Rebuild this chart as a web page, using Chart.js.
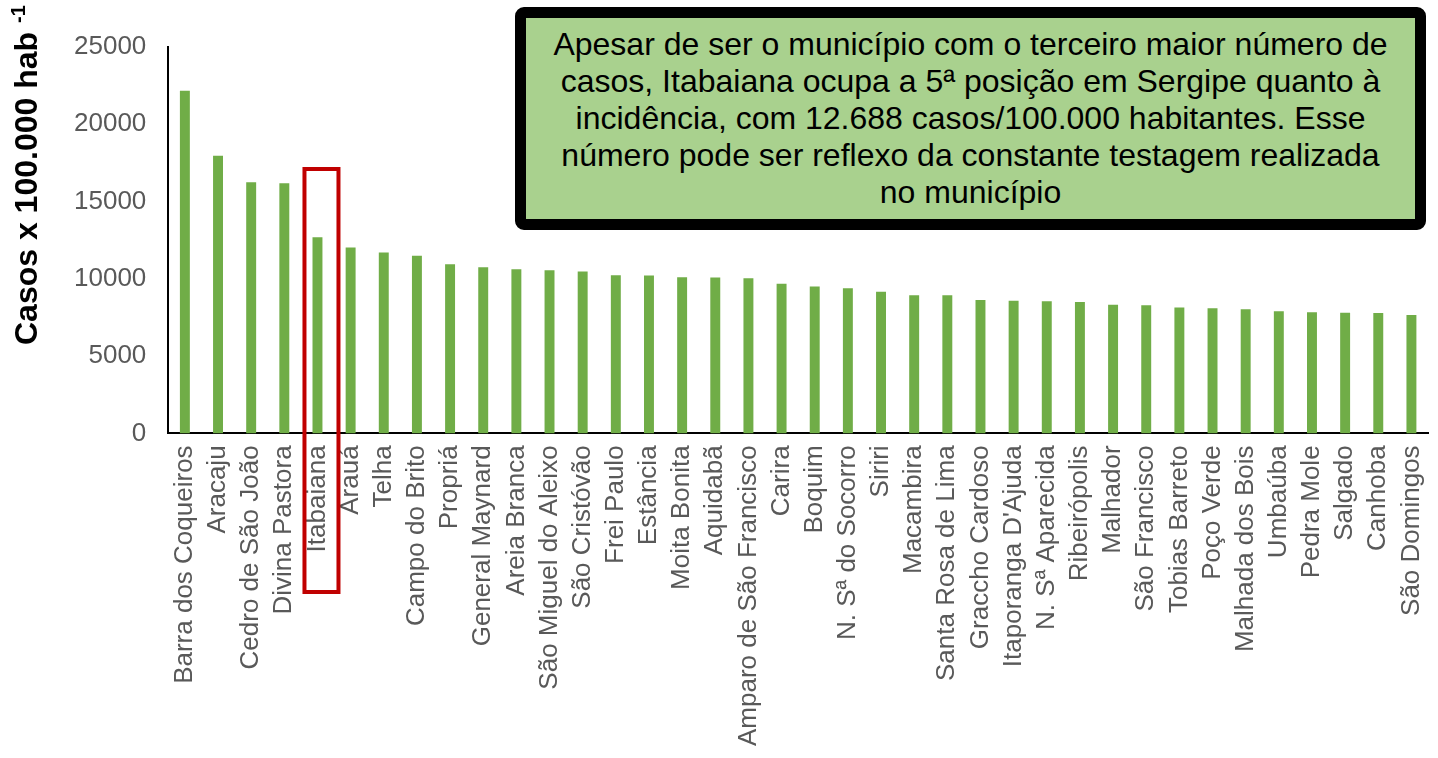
<!DOCTYPE html>
<html>
<head>
<meta charset="utf-8">
<script src="https://cdn.jsdelivr.net/npm/chart.js@4.4.1/dist/chart.umd.min.js"></script>
<style>
  html, body { margin: 0; padding: 0; background: #fff; }
  #wrap { position: relative; width: 1438px; height: 758px; }
  #note {
    position: absolute; left: 515px; top: 7px; width: 889px; height: 193px;
    border: 11px solid #000; border-radius: 9px; background: #a9d18e;
    font-family: "Liberation Sans", Arial, sans-serif; font-size: 32px; line-height: 37px;
    color: #000; text-align: center; padding-top: 8px; box-sizing: content-box;
    white-space: nowrap;
  }
</style>
</head>
<body>
<div id="wrap">
  <canvas id="chart" width="1438" height="758"></canvas>
  <div id="note">Apesar de ser o município com o terceiro maior número de<br>casos, Itabaiana ocupa a 5ª posição em Sergipe quanto à<br>incidência, com 12.688 casos/100.000 habitantes. Esse<br>número pode ser reflexo da constante testagem realizada<br>no município</div>
</div>
<script>
const municipios = [
  "Barra dos Coqueiros", "Aracaju", "Cedro de São João", "Divina Pastora", "Itabaiana",
  "Arauá", "Telha", "Campo do Brito", "Propriá", "General Maynard", "Areia Branca",
  "São Miguel do Aleixo", "São Cristóvão", "Frei Paulo", "Estância", "Moita Bonita",
  "Aquidabã", "Amparo de São Francisco", "Carira", "Boquim", "N. Sª do Socorro", "Siriri",
  "Macambira", "Santa Rosa de Lima", "Graccho Cardoso", "Itaporanga D'Ajuda",
  "N. Sª Aparecida", "Ribeirópolis", "Malhador", "São Francisco", "Tobias Barreto",
  "Poço Verde", "Malhada dos Bois", "Umbaúba", "Pedra Mole", "Salgado", "Canhoba",
  "São Domingos"
];
const incidencia = [
  22170, 17960, 16250, 16190, 12688,
  12030, 11700, 11500, 10940, 10750, 10620,
  10550, 10470, 10230, 10210, 10100,
  10080, 10040, 9690, 9500, 9390, 9170,
  8940, 8940, 8630, 8590,
  8550, 8500, 8330, 8290, 8140,
  8090, 8030, 7900, 7840, 7810, 7790,
  7660
];
const yTicks = [0, 5000, 10000, 15000, 20000, 25000];
const yTitle = "Casos x 100.000 hab";
const yTitleSup = "-1";

const destaqueIdx = 4; // Itabaiana

const font = "'Liberation Sans', Arial, sans-serif";

// red box round Itabaiana + y axis title with superscript
const extras = {
  id: "extras",
  afterDraw(c) {
    const x = c.scales.x;
    const cx = x.getPixelForValue(destaqueIdx);
    const ctx = c.ctx;
    ctx.save();
    ctx.strokeStyle = "#c00000";
    ctx.lineWidth = 4;
    ctx.strokeRect(cx - 13, 169, 34, 423);
    ctx.restore();

    ctx.save();
    ctx.translate(37, 345);
    ctx.rotate(-Math.PI / 2);
    ctx.fillStyle = "#000";
    ctx.textBaseline = "alphabetic";
    ctx.textAlign = "left";
    ctx.font = "bold 32px " + font;
    ctx.fillText(yTitle, 0, 0);
    const w = ctx.measureText(yTitle + " ").width;
    ctx.font = "bold 20px " + font;
    ctx.fillText(yTitleSup, w, -12);
    ctx.restore();
  }
};

new Chart(document.getElementById("chart"), {
  type: "bar",
  data: {
    labels: municipios,
    datasets: [{
      data: incidencia,
      backgroundColor: "#70ad47",
      barPercentage: 0.3,
      categoryPercentage: 1
    }]
  },
  options: {
    responsive: false,
    devicePixelRatio: 1,
    animation: false,
    layout: { padding: { left: 52, top: 47, right: 10, bottom: 0 } },
    plugins: { legend: { display: false }, tooltip: { enabled: false } },
    scales: {
      x: {
        grid: { display: false, drawTicks: false },
        border: { color: "#000", width: 2 },
        afterFit: s => { s.paddingRight = 0; s.paddingLeft = 0; },
        ticks: {
          color: "#595959", font: { family: font, size: 26 },
          maxRotation: 90, minRotation: 90, autoSkip: false, padding: 12
        }
      },
      y: {
        min: 0, max: 25000,
        afterBuildTicks: s => { s.ticks = yTicks.map(v => ({ value: v })); },
        grid: { display: false, drawTicks: false },
        border: { color: "#000", width: 2 },
        ticks: {
          color: "#595959", font: { family: font, size: 26 }, padding: 22,
          callback: v => String(v)
        }
      }
    }
  },
  plugins: [extras]
});
</script>
</body>
</html>
